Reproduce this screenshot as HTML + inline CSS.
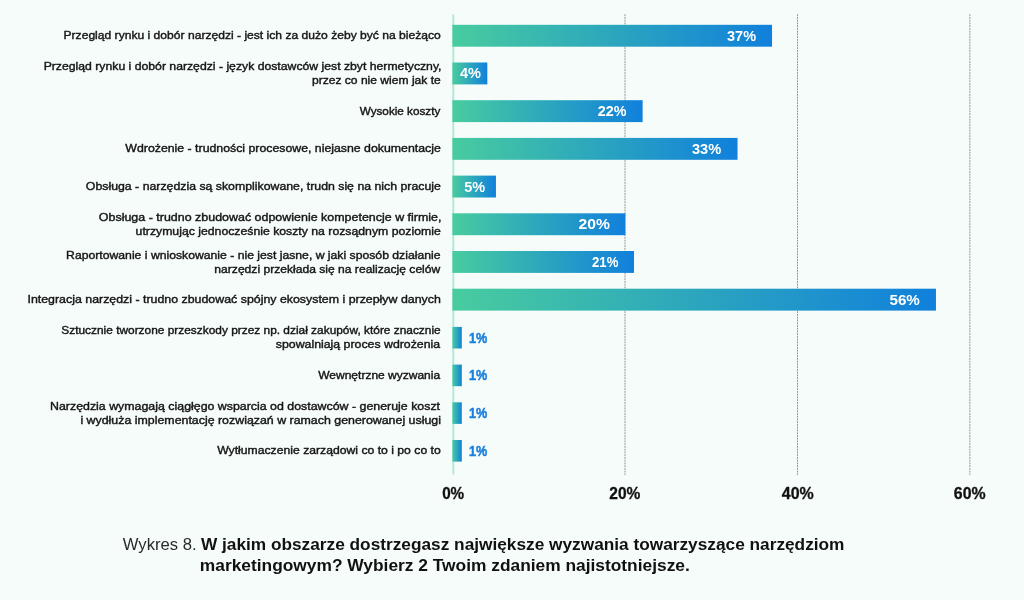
<!DOCTYPE html>
<html lang="pl">
<head>
<meta charset="utf-8">
<title>Wykres 8</title>
<style>
html,body{margin:0;padding:0;}
body{width:1024px;height:600px;overflow:hidden;background:#f6fcfa;}
svg{display:block;position:absolute;left:0;top:0;}
text{font-family:"Liberation Sans",sans-serif;white-space:pre;}
.lab{font-size:11.4px;font-weight:400;fill:#151515;stroke:#151515;stroke-width:0.4px;}
.val{font-size:15.0px;font-weight:700;fill:#fff;}
.val1{font-size:15px;font-weight:700;fill:#1a80de;stroke:#1a80de;stroke-width:0.5px;}
.tick{font-size:15.6px;font-weight:700;fill:#111;stroke:#111;stroke-width:0.3px;}
.cap{font-size:16.5px;font-weight:400;fill:#2a2a2a;}
.capb{font-size:16.5px;font-weight:700;fill:#111;}
</style>
</head>
<body>
<svg width="1024" height="600" viewBox="0 0 1024 600" role="img" aria-label="Wykres 8">
<defs>
<linearGradient id="g" x1="0" y1="0" x2="1" y2="0">
<stop offset="0" stop-color="#48cc9f"/>
<stop offset="1" stop-color="#1080dc"/>
</linearGradient>
</defs>
<rect x="0" y="0" width="1024" height="600" fill="#f6fcfa"/>
<line x1="625.00" y1="14.2" x2="625.00" y2="475" stroke="#959595" stroke-width="1" stroke-dasharray="1.9 0.85"/>
<line x1="797.50" y1="14.2" x2="797.50" y2="475" stroke="#959595" stroke-width="1" stroke-dasharray="1.9 0.85"/>
<line x1="969.85" y1="14.2" x2="969.85" y2="475" stroke="#959595" stroke-width="1" stroke-dasharray="1.9 0.85"/>
<rect x="452.3" y="14.5" width="2" height="460" fill="#b5e9d8"/>
<rect x="452.4" y="24.80" width="319.64" height="21.90" fill="url(#g)"/>
<rect x="452.4" y="62.50" width="34.91" height="21.90" fill="url(#g)"/>
<rect x="452.4" y="100.20" width="190.22" height="21.90" fill="url(#g)"/>
<rect x="452.4" y="137.90" width="285.12" height="21.90" fill="url(#g)"/>
<rect x="452.4" y="175.60" width="43.54" height="21.90" fill="url(#g)"/>
<rect x="452.4" y="213.30" width="172.96" height="21.90" fill="url(#g)"/>
<rect x="452.4" y="251.00" width="181.59" height="21.90" fill="url(#g)"/>
<rect x="452.4" y="288.70" width="483.57" height="21.90" fill="url(#g)"/>
<rect x="452.4" y="326.90" width="9.40" height="21.60" fill="url(#g)"/>
<rect x="452.4" y="364.60" width="9.40" height="21.60" fill="url(#g)"/>
<rect x="452.4" y="402.30" width="9.40" height="21.60" fill="url(#g)"/>
<rect x="452.4" y="440.00" width="9.40" height="21.60" fill="url(#g)"/>
<text class="lab" transform="translate(63.51 39.00) scale(1.0622 1)">Przegląd rynku i dobór narzędzi - jest ich za dużo żeby być na bieżąco</text>
<text class="lab" transform="translate(43.65 70.00) scale(1.0734 1)">Przegląd rynku i dobór narzędzi - język dostawców jest zbyt hermetyczny,</text>
<text class="lab" transform="translate(311.92 84.00) scale(1.0602 1)">przez co nie wiem jak te</text>
<text class="lab" transform="translate(359.70 115.00) scale(1.0292 1)">Wysokie koszty</text>
<text class="lab" transform="translate(125.34 152.00) scale(1.0805 1)">Wdrożenie - trudności procesowe, niejasne dokumentacje</text>
<text class="lab" transform="translate(85.86 190.00) scale(1.0797 1)">Obsługa - narzędzia są skomplikowane, trudn się na nich pracuje</text>
<text class="lab" transform="translate(98.81 221.00) scale(1.0929 1)">Obsługa - trudno zbudować odpowienie kompetencje w firmie,</text>
<text class="lab" transform="translate(135.60 235.00) scale(1.0761 1)">utrzymując jednocześnie koszty na rozsądnym poziomie</text>
<text class="lab" transform="translate(66.11 259.00) scale(1.0722 1)">Raportowanie i wnioskowanie - nie jest jasne, w jaki sposób działanie</text>
<text class="lab" transform="translate(214.35 273.00) scale(1.0616 1)">narzędzi przekłada się na realizację celów</text>
<text class="lab" transform="translate(27.48 303.00) scale(1.0865 1)">Integracja narzędzi - trudno zbudować spójny ekosystem i przepływ danych</text>
<text class="lab" transform="translate(61.27 334.00) scale(1.0447 1)">Sztucznie tworzone przeszkody przez np. dział zakupów, które znacznie</text>
<text class="lab" transform="translate(275.82 348.00) scale(1.0821 1)">spowalniają proces wdrożenia</text>
<text class="lab" transform="translate(318.21 379.00) scale(1.0547 1)">Wewnętrzne wyzwania</text>
<text class="lab" transform="translate(50.01 410.00) scale(1.0870 1)">Narzędzia wymagają ciągłęgo wsparcia od dostawców - generuje koszt</text>
<text class="lab" transform="translate(80.42 424.00) scale(1.0873 1)">i wydłuża implementację rozwiązań w ramach generowanej usługi</text>
<text class="lab" transform="translate(217.21 454.00) scale(1.0706 1)">Wytłumaczenie zarządowi co to i po co to</text>
<text class="val" transform="translate(727.05 40.75) scale(0.9681 1)">37%</text>
<text class="val" transform="translate(459.96 78.45) scale(0.9679 1)">4%</text>
<text class="val" transform="translate(597.72 116.15) scale(0.9571 1)">22%</text>
<text class="val" transform="translate(692.00 153.85) scale(0.9746 1)">33%</text>
<text class="val" transform="translate(464.18 191.55) scale(0.9642 1)">5%</text>
<text class="val" transform="translate(578.56 229.25) scale(1.0453 1)">20%</text>
<text class="val" transform="translate(592.00 266.95) scale(0.8785 1)">21%</text>
<text class="val" transform="translate(889.46 304.65) scale(1.0122 1)">56%</text>
<text class="val1" transform="translate(468.97 342.65) scale(0.8423 1)">1%</text>
<text class="val1" transform="translate(468.97 380.35) scale(0.8423 1)">1%</text>
<text class="val1" transform="translate(468.97 418.05) scale(0.8423 1)">1%</text>
<text class="val1" transform="translate(468.97 455.75) scale(0.8423 1)">1%</text>
<text class="tick" transform="translate(442.13 499.00) scale(0.9784 1)">0%</text>
<text class="tick" transform="translate(609.30 499.00) scale(0.9964 1)">20%</text>
<text class="tick" transform="translate(781.80 499.00) scale(1.0246 1)">40%</text>
<text class="tick" transform="translate(953.87 499.00) scale(1.0186 1)">60%</text>
<text class="cap" transform="translate(122.75 550.00) scale(1.0095 1)">Wykres 8.</text>
<text class="capb" transform="translate(200.93 550.00) scale(1.0469 1)">W jakim obszarze dostrzegasz największe wyzwania towarzyszące narzędziom</text>
<text class="capb" transform="translate(199.86 571.00) scale(1.0518 1)">marketingowym? Wybierz 2 Twoim zdaniem najistotniejsze.</text>
</svg>
</body>
</html>
